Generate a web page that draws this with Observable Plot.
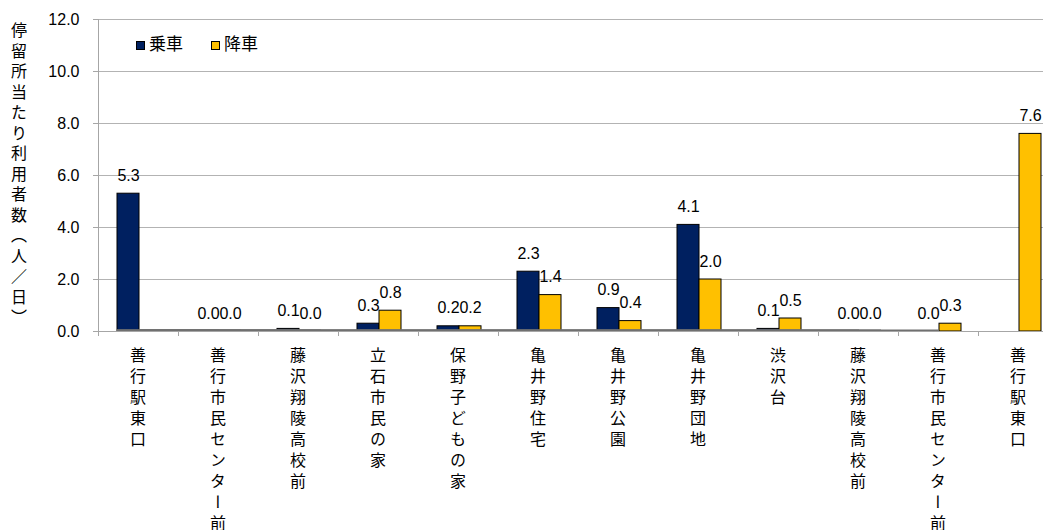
<!DOCTYPE html>
<html><head><meta charset="utf-8">
<script src="https://cdn.jsdelivr.net/npm/d3@7"></script>
<script src="https://cdn.jsdelivr.net/npm/@observablehq/plot@0.6"></script>
<style>
body{margin:0;background:#fff;font-family:"Liberation Sans","Noto Sans CJK JP",Arial,sans-serif;}
#wrap{position:relative;width:1043px;height:530px;overflow:hidden;background:#fff;}
#wrap svg{position:absolute;left:0;top:0;}
.ytitle{position:absolute;left:9px;top:22px;writing-mode:vertical-rl;font-size:16px;letter-spacing:4.5px;line-height:16px;color:#000;}
.leg{position:absolute;top:35px;font-size:17px;line-height:20px;display:flex;align-items:center;color:#000;}
.leg i{display:inline-block;width:7px;height:7px;border:1px solid #000;margin-right:4px;}
</style></head>
<body><div id="wrap"></div>
<script>
const stops = ["善行駅東口","善行市民センター前","藤沢翔陵高校前","立石市民の家","保野子どもの家","亀井野住宅","亀井野公園","亀井野団地","渋沢台","藤沢翔陵高校前","善行市民センター前","善行駅東口"];
const boarding  = [5.3, 0.0, 0.1, 0.3, 0.2, 2.3, 0.9, 4.1, 0.1, 0.0, 0.0, null];
const alighting = [null, 0.0, 0.0, 0.8, 0.2, 1.4, 0.4, 2.0, 0.5, 0.0, 0.3, 7.6];
const seriesNames = ["乗車","降車"];
const seriesColors = ["#002060","#FFC000"];
const yTicks = [0, 2, 4, 6, 8, 10, 12];
const yTitle = "停留所当たり利用者数（人／日）";

const idx = stops.map((_, i) => i);
const board = idx.filter(i => boarding[i] != null).map(i => ({i, v: boarding[i]}));
const alight = idx.filter(i => alighting[i] != null).map(i => ({i, v: alighting[i]}));
const axisColor = "#a6a6a6";

const chart = Plot.plot({
  width: 1043, height: 530,
  marginLeft: 98, marginRight: 0, marginTop: 19, marginBottom: 199,
  style: {fontFamily: '"Liberation Sans","Noto Sans CJK JP",Arial,sans-serif', fontSize: "16px", color: "#000", background: "#fff"},
  x: {type: "band", domain: idx, range: [98, 1058], padding: 0},
  y: {domain: [0, 12]},
  marks: [
    Plot.gridY({ticks: yTicks, stroke: "#b3b3b3", strokeOpacity: 1}),
    Plot.barY(board, {x: "i", y: "v", fill: seriesColors[0], stroke: "#000", strokeWidth: 1, insetLeft: 19, insetRight: 39}),
    Plot.barY(alight, {x: "i", y: "v", fill: seriesColors[1], stroke: "#000", strokeWidth: 1, insetLeft: 41, insetRight: 17}),
    Plot.ruleY(board.filter(d => d.v === 0), {x: "i", y: "v", dy: -1, stroke: "#707070", strokeWidth: 2, insetLeft: 19, insetRight: 39}),
    Plot.ruleY(alight.filter(d => d.v === 0), {x: "i", y: "v", dy: -1, stroke: "#707070", strokeWidth: 2, insetLeft: 41, insetRight: 17}),
    Plot.text(board, {x: "i", y: "v", text: d => d.v.toFixed(1), dx: -10, dy: -18, fontSize: 16, fill: "#000"}),
    Plot.text(alight, {x: "i", y: "v", text: d => d.v.toFixed(1), dx: 12, dy: -18, fontSize: 16, fill: "#000"}),
    Plot.ruleY([0], {stroke: axisColor}),
    Plot.ruleX([0], {x: d => d, dx: -40, y1: 0, y2: 12, stroke: axisColor}),
    Plot.axisY({ticks: yTicks, tickFormat: d => d.toFixed(1), tickSize: 5, tickPadding: 14, stroke: axisColor, label: null, fontSize: 16, fill: "#000"}),
    Plot.axisX({tickSize: 5, tickFormat: () => "", dx: -40, stroke: axisColor, label: null})
  ]
});

const wrap = document.getElementById("wrap");
wrap.appendChild(chart);

// vertical category labels placed with Plot's x scale
const xs = chart.scale("x");
const svg = d3.select(chart);
const g = svg.append("g").attr("aria-label", "category labels");
stops.forEach((name, i) => {
  g.append("text")
    .attr("x", xs.apply(i) + xs.bandwidth / 2)
    .attr("y", 347)
    .attr("text-anchor", "start")
    .attr("fill", "#000")
    .style("writing-mode", "vertical-rl")
    .style("font-size", "16px")
    .style("letter-spacing", "5px")
    .style("font-family", '"Noto Sans CJK JP","Liberation Sans",sans-serif')
    .text(name);
});

// y-axis title
const t = document.createElement("div");
t.className = "ytitle";
t.textContent = yTitle;
wrap.appendChild(t);

// legend
const legLeft = [136, 211];
seriesNames.forEach((n, k) => {
  const d = document.createElement("div");
  d.className = "leg";
  d.style.left = legLeft[k] + "px";
  d.innerHTML = `<i style="background:${seriesColors[k]}"></i><span></span>`;
  d.querySelector("span").textContent = n;
  wrap.appendChild(d);
});
</script>
</body></html>
